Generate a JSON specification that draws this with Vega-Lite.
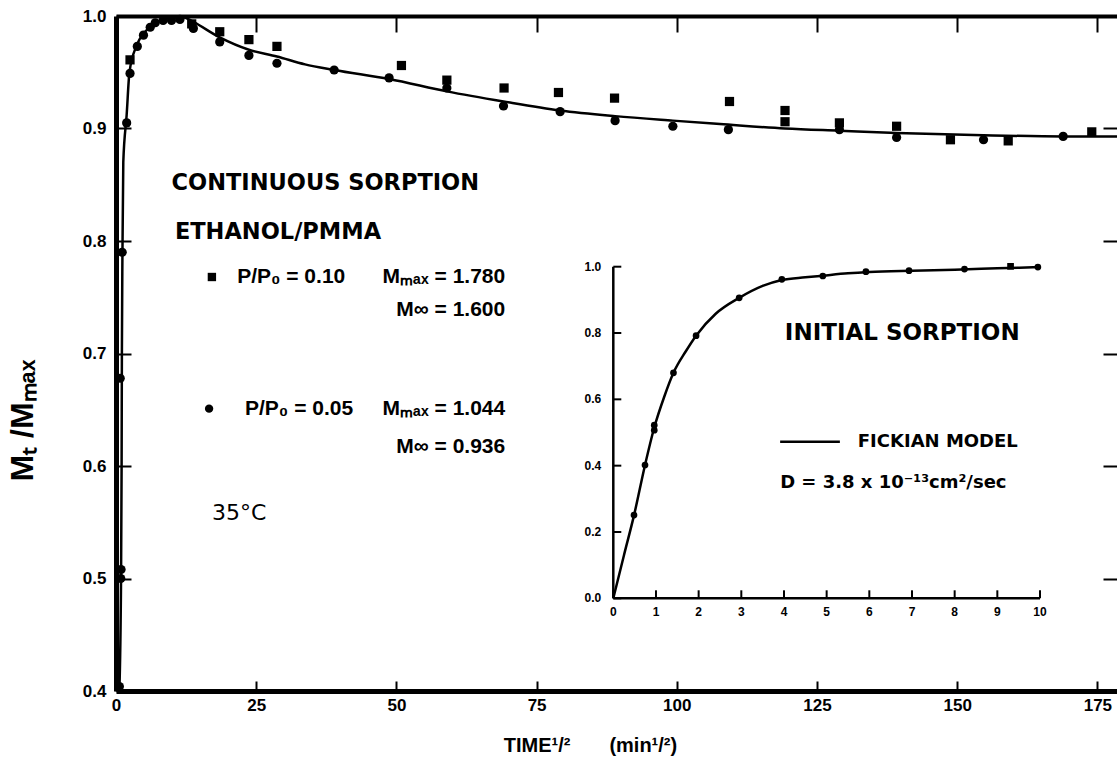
{
  "$schema": "https://vega.github.io/schema/vega-lite/v6.json",
  "width": 1001,
  "height": 675,
  "autosize": {"type": "none"},
  "padding": {"left": 116, "top": 16, "right": 0, "bottom": 75},
  "background": "white",
  "config": {
    "view": {"stroke": null},
    "axis": {"grid": false, "domainColor": "black", "tickColor": "black", "labelColor": "black", "titleColor": "black", "labelFont": "Liberation Sans", "titleFont": "Liberation Sans", "labelFontWeight": "bold"}
  },
  "datasets": {
    "main_curve": [
      {"t": 0.6, "m": 0.40}, {"t": 0.9, "m": 0.50}, {"t": 1.0, "m": 0.60}, {"t": 1.05, "m": 0.70}, {"t": 1.15, "m": 0.79},
      {"t": 1.3, "m": 0.87}, {"t": 1.9, "m": 0.912}, {"t": 2.4, "m": 0.950}, {"t": 3.7, "m": 0.974}, {"t": 5.2, "m": 0.986},
      {"t": 7.0, "m": 0.994}, {"t": 9.6, "m": 0.998}, {"t": 12.0, "m": 0.999}, {"t": 13.7, "m": 0.995}, {"t": 18.5, "m": 0.981},
      {"t": 23.7, "m": 0.970}, {"t": 28.7, "m": 0.964}, {"t": 33.7, "m": 0.957}, {"t": 38.9, "m": 0.952}, {"t": 48.7, "m": 0.944},
      {"t": 59.0, "m": 0.933}, {"t": 69.1, "m": 0.924}, {"t": 79.2, "m": 0.916}, {"t": 89.0, "m": 0.911}, {"t": 99.3, "m": 0.907},
      {"t": 107.7, "m": 0.904}, {"t": 119.3, "m": 0.900}, {"t": 129.0, "m": 0.898}, {"t": 139.2, "m": 0.896}, {"t": 154.7, "m": 0.894},
      {"t": 168.9, "m": 0.893}, {"t": 178.5, "m": 0.893}
    ],
    "main_points": [
      {"t": 0.6, "m": 0.404, "series": "0.05"}, {"t": 0.9, "m": 0.508, "series": "0.05"}, {"t": 0.85, "m": 0.50, "series": "0.05"},
      {"t": 0.75, "m": 0.678, "series": "0.05"}, {"t": 1.1, "m": 0.79, "series": "0.05"}, {"t": 1.9, "m": 0.905, "series": "0.05"},
      {"t": 2.5, "m": 0.949, "series": "0.05"}, {"t": 3.8, "m": 0.973, "series": "0.05"}, {"t": 4.9, "m": 0.983, "series": "0.05"},
      {"t": 6.1, "m": 0.99, "series": "0.05"}, {"t": 7.0, "m": 0.994, "series": "0.05"}, {"t": 8.4, "m": 0.996, "series": "0.05"},
      {"t": 9.9, "m": 0.996, "series": "0.05"}, {"t": 11.4, "m": 0.997, "series": "0.05"}, {"t": 13.8, "m": 0.989, "series": "0.05"},
      {"t": 18.5, "m": 0.977, "series": "0.05"}, {"t": 23.7, "m": 0.965, "series": "0.05"}, {"t": 28.7, "m": 0.958, "series": "0.05"},
      {"t": 38.9, "m": 0.952, "series": "0.05"}, {"t": 48.7, "m": 0.945, "series": "0.05"}, {"t": 59.0, "m": 0.936, "series": "0.05"},
      {"t": 69.1, "m": 0.92, "series": "0.05"}, {"t": 79.2, "m": 0.915, "series": "0.05"}, {"t": 89.0, "m": 0.907, "series": "0.05"},
      {"t": 99.3, "m": 0.902, "series": "0.05"}, {"t": 109.2, "m": 0.899, "series": "0.05"}, {"t": 129.0, "m": 0.899, "series": "0.05"},
      {"t": 139.2, "m": 0.892, "series": "0.05"}, {"t": 154.7, "m": 0.890, "series": "0.05"}, {"t": 168.9, "m": 0.893, "series": "0.05"},
      {"t": 2.5, "m": 0.961, "series": "0.10"}, {"t": 13.5, "m": 0.993, "series": "0.10"}, {"t": 18.5, "m": 0.986, "series": "0.10"},
      {"t": 23.7, "m": 0.979, "series": "0.10"}, {"t": 28.7, "m": 0.973, "series": "0.10"}, {"t": 50.9, "m": 0.956, "series": "0.10"},
      {"t": 59.0, "m": 0.943, "series": "0.10"}, {"t": 69.2, "m": 0.936, "series": "0.10"}, {"t": 78.9, "m": 0.932, "series": "0.10"},
      {"t": 88.9, "m": 0.927, "series": "0.10"}, {"t": 109.4, "m": 0.924, "series": "0.10"}, {"t": 119.3, "m": 0.916, "series": "0.10"},
      {"t": 119.3, "m": 0.906, "series": "0.10"}, {"t": 129.0, "m": 0.905, "series": "0.10"}, {"t": 139.2, "m": 0.902, "series": "0.10"},
      {"t": 148.8, "m": 0.890, "series": "0.10"}, {"t": 159.1, "m": 0.889, "series": "0.10"}, {"t": 174.0, "m": 0.897, "series": "0.10"}
    ],
    "legend_markers": [
      {"t": 17.1, "m": 0.768, "series": "0.10"},
      {"t": 16.6, "m": 0.651, "series": "0.05"}
    ],
    "notes_big": [
      {"t": 9.9, "m": 0.852, "label": "CONTINUOUS SORPTION"},
      {"t": 10.5, "m": 0.808, "label": "ETHANOL/PMMA"}
    ],
    "notes_leg_left": [
      {"t": 21.6, "m": 0.768, "label": "P/P₀ = 0.10"},
      {"t": 23.0, "m": 0.651, "label": "P/P₀ = 0.05"}
    ],
    "notes_leg_right": [
      {"t": 69.4, "m": 0.768, "label": "Mₘₐₓ = 1.780"},
      {"t": 69.4, "m": 0.739, "label": "M∞ = 1.600"},
      {"t": 69.4, "m": 0.651, "label": "Mₘₐₓ = 1.044"},
      {"t": 69.4, "m": 0.617, "label": "M∞ = 0.936"}
    ],
    "notes_temp": [
      {"t": 17.1, "m": 0.558, "label": "35°C"}
    ],
    "inset_curve": [
      {"x": 0, "y": 0}, {"x": 0.25, "y": 0.13}, {"x": 0.485, "y": 0.25}, {"x": 0.74, "y": 0.40}, {"x": 0.96, "y": 0.515},
      {"x": 1.2, "y": 0.61}, {"x": 1.41, "y": 0.68}, {"x": 1.7, "y": 0.745}, {"x": 1.94, "y": 0.792}, {"x": 2.4, "y": 0.858},
      {"x": 2.95, "y": 0.906}, {"x": 3.5, "y": 0.942}, {"x": 3.95, "y": 0.96}, {"x": 4.5, "y": 0.968}, {"x": 4.91, "y": 0.973},
      {"x": 5.5, "y": 0.98}, {"x": 6, "y": 0.984}, {"x": 7, "y": 0.988}, {"x": 8, "y": 0.991}, {"x": 9, "y": 0.995}, {"x": 10, "y": 0.999}
    ],
    "inset_points": [
      {"x": 0.485, "y": 0.251, "series": "0.05"}, {"x": 0.743, "y": 0.402, "series": "0.05"}, {"x": 0.96, "y": 0.507, "series": "0.05"},
      {"x": 0.96, "y": 0.522, "series": "0.05"}, {"x": 1.41, "y": 0.68, "series": "0.05"}, {"x": 1.94, "y": 0.792, "series": "0.05"},
      {"x": 2.95, "y": 0.906, "series": "0.05"}, {"x": 3.95, "y": 0.962, "series": "0.05"}, {"x": 4.91, "y": 0.972, "series": "0.05"},
      {"x": 5.92, "y": 0.985, "series": "0.05"}, {"x": 6.93, "y": 0.988, "series": "0.05"}, {"x": 8.23, "y": 0.993, "series": "0.05"},
      {"x": 9.95, "y": 0.999, "series": "0.05"}, {"x": 9.31, "y": 1.001, "series": "0.10"}
    ],
    "inset_frame": [
      {"x": 0, "x2": 10, "y": 0, "y2": 0},
      {"x": 0, "x2": 0, "y": 0, "y2": 1}
    ],
    "inset_xticks": [
      {"x": 0}, {"x": 1}, {"x": 2}, {"x": 3}, {"x": 4}, {"x": 5}, {"x": 6}, {"x": 7}, {"x": 8}, {"x": 9}, {"x": 10}
    ],
    "inset_yticks": [
      {"y": 0}, {"y": 0.2}, {"y": 0.4}, {"y": 0.6}, {"y": 0.8}, {"y": 1.0}
    ],
    "inset_rule": [
      {"x": 3.91, "x2": 5.31, "y": 0.472}
    ],
    "inset_big": [
      {"x": 4.02, "y": 0.80, "label": "INITIAL SORPTION"}
    ],
    "inset_model": [
      {"x": 5.73, "y": 0.472, "label": "FICKIAN MODEL"}
    ],
    "inset_d": [
      {"x": 3.91, "y": 0.347, "label": "D  = 3.8 x 10⁻¹³cm²/sec"}
    ]
  },
  "resolve": {"scale": {"x": "independent", "y": "independent"}},
  "layer": [
    {
      "resolve": {"axis": {"x": "independent", "y": "independent"}},
      "layer": [
        {
          "data": {"name": "main_curve"},
          "mark": {"type": "line", "color": "black", "strokeWidth": 2.5, "interpolate": "monotone"},
          "encoding": {
            "x": {"field": "t", "type": "quantitative", "scale": {"domain": [0, 178.5], "nice": false, "zero": false},
              "axis": {"orient": "bottom", "values": [0, 25, 50, 75, 100, 125, 150, 175], "tickSize": -10, "tickWidth": 2, "labelPadding": 16, "domainWidth": 5, "labelFontSize": 17, "labelFlush": false,
                "title": "TIME¹/²\u00a0\u00a0\u00a0\u00a0\u00a0\u00a0\u00a0(min¹/²)", "titleFontSize": 20, "titleFontWeight": "bold", "titleX": 474, "titleY": 54, "titleBaseline": "middle"}},
            "y": {"field": "m", "type": "quantitative", "scale": {"domain": [0.4, 1.0], "nice": false, "zero": false},
              "axis": {"orient": "left", "values": [0.4, 0.5, 0.6, 0.7, 0.8, 0.9, 1.0], "format": ".1f", "tickSize": -15, "tickWidth": 2, "labelPadding": 25, "domainWidth": 5, "labelFontSize": 17,
                "title": "Mₜ /Mₘₐₓ", "titleFontSize": 32, "titleFontWeight": "bold", "titleAngle": -90, "titleX": -94, "titleY": 404, "titleBaseline": "middle", "titleAlign": "center"}}
          }
        },
        {
          "data": {"name": "main_points"},
          "mark": {"type": "point", "filled": true, "color": "black", "opacity": 1, "size": 85},
          "encoding": {
            "x": {"field": "t", "type": "quantitative", "scale": {"domain": [0, 178.5], "nice": false, "zero": false},
              "axis": {"orient": "top", "values": [25, 50, 75, 100, 125, 150, 175], "tickSize": -16, "tickWidth": 2, "labels": false, "domainWidth": 4, "title": null}},
            "y": {"field": "m", "type": "quantitative", "scale": {"domain": [0.4, 1.0], "nice": false, "zero": false},
              "axis": {"orient": "right", "values": [0.5, 0.6, 0.7, 0.8, 0.9], "tickSize": -14, "tickWidth": 2, "labels": false, "domain": false, "title": null}},
            "shape": {"field": "series", "type": "nominal", "scale": {"domain": ["0.10", "0.05"], "range": ["square", "circle"]}, "legend": null}
          }
        },
        {
          "data": {"name": "legend_markers"},
          "mark": {"type": "point", "filled": true, "color": "black", "opacity": 1, "size": 70},
          "encoding": {
            "x": {"field": "t", "type": "quantitative", "scale": {"domain": [0, 178.5], "nice": false, "zero": false}, "axis": null},
            "y": {"field": "m", "type": "quantitative", "scale": {"domain": [0.4, 1.0], "nice": false, "zero": false}, "axis": null},
            "shape": {"field": "series", "type": "nominal", "scale": {"domain": ["0.10", "0.05"], "range": ["square", "circle"]}, "legend": null}
          }
        },
        {
          "data": {"name": "notes_big"},
          "mark": {"type": "text", "font": "DejaVu Sans", "fontWeight": "bold", "fontSize": 22.5, "align": "left", "baseline": "middle", "color": "black"},
          "encoding": {
            "x": {"field": "t", "type": "quantitative", "scale": {"domain": [0, 178.5], "nice": false, "zero": false}, "axis": null},
            "y": {"field": "m", "type": "quantitative", "scale": {"domain": [0.4, 1.0], "nice": false, "zero": false}, "axis": null},
            "text": {"field": "label"}
          }
        },
        {
          "data": {"name": "notes_leg_left"},
          "mark": {"type": "text", "font": "Liberation Sans", "fontWeight": "bold", "fontSize": 21, "align": "left", "baseline": "middle", "color": "black"},
          "encoding": {
            "x": {"field": "t", "type": "quantitative", "scale": {"domain": [0, 178.5], "nice": false, "zero": false}, "axis": null},
            "y": {"field": "m", "type": "quantitative", "scale": {"domain": [0.4, 1.0], "nice": false, "zero": false}, "axis": null},
            "text": {"field": "label"}
          }
        },
        {
          "data": {"name": "notes_leg_right"},
          "mark": {"type": "text", "font": "Liberation Sans", "fontWeight": "bold", "fontSize": 21, "align": "right", "baseline": "middle", "color": "black"},
          "encoding": {
            "x": {"field": "t", "type": "quantitative", "scale": {"domain": [0, 178.5], "nice": false, "zero": false}, "axis": null},
            "y": {"field": "m", "type": "quantitative", "scale": {"domain": [0.4, 1.0], "nice": false, "zero": false}, "axis": null},
            "text": {"field": "label"}
          }
        },
        {
          "data": {"name": "notes_temp"},
          "mark": {"type": "text", "font": "DejaVu Sans", "fontWeight": "normal", "fontSize": 22, "align": "left", "baseline": "middle", "color": "black"},
          "encoding": {
            "x": {"field": "t", "type": "quantitative", "scale": {"domain": [0, 178.5], "nice": false, "zero": false}, "axis": null},
            "y": {"field": "m", "type": "quantitative", "scale": {"domain": [0.4, 1.0], "nice": false, "zero": false}, "axis": null},
            "text": {"field": "label"}
          }
        }
      ]
    },
    {
      "layer": [
        {
          "data": {"name": "inset_frame"},
          "mark": {"type": "rule", "color": "black", "strokeWidth": 2.5},
          "encoding": {
            "x": {"field": "x", "type": "quantitative", "scale": {"domain": [0, 10], "range": [497.3, 924], "nice": false, "zero": false}, "axis": null},
            "x2": {"field": "x2"},
            "y": {"field": "y", "type": "quantitative", "scale": {"domain": [0, 1], "range": [582.3, 250.7], "nice": false, "zero": false}, "axis": null},
            "y2": {"field": "y2"}
          }
        },
        {
          "data": {"name": "inset_xticks"},
          "mark": {"type": "tick", "color": "black", "orient": "vertical", "size": 8, "thickness": 2, "yOffset": -4, "opacity": 1},
          "encoding": {
            "x": {"field": "x", "type": "quantitative", "scale": {"domain": [0, 10], "range": [497.3, 924], "nice": false, "zero": false}, "axis": null},
            "y": {"datum": 0, "type": "quantitative", "scale": {"domain": [0, 1], "range": [582.3, 250.7], "nice": false, "zero": false}, "axis": null}
          }
        },
        {
          "data": {"name": "inset_yticks"},
          "mark": {"type": "tick", "color": "black", "orient": "horizontal", "size": 8, "thickness": 2, "xOffset": 4, "opacity": 1},
          "encoding": {
            "x": {"datum": 0, "type": "quantitative", "scale": {"domain": [0, 10], "range": [497.3, 924], "nice": false, "zero": false}, "axis": null},
            "y": {"field": "y", "type": "quantitative", "scale": {"domain": [0, 1], "range": [582.3, 250.7], "nice": false, "zero": false}, "axis": null}
          }
        },
        {
          "data": {"name": "inset_xticks"},
          "mark": {"type": "text", "font": "Liberation Sans", "fontWeight": "bold", "fontSize": 12, "align": "center", "baseline": "top", "dy": 9, "color": "black"},
          "encoding": {
            "x": {"field": "x", "type": "quantitative", "scale": {"domain": [0, 10], "range": [497.3, 924], "nice": false, "zero": false}, "axis": null},
            "y": {"datum": 0, "type": "quantitative", "scale": {"domain": [0, 1], "range": [582.3, 250.7], "nice": false, "zero": false}, "axis": null},
            "text": {"field": "x", "type": "quantitative", "format": "d"}
          }
        },
        {
          "data": {"name": "inset_yticks"},
          "mark": {"type": "text", "font": "Liberation Sans", "fontWeight": "bold", "fontSize": 12, "align": "right", "baseline": "middle", "dx": -12, "color": "black"},
          "encoding": {
            "x": {"datum": 0, "type": "quantitative", "scale": {"domain": [0, 10], "range": [497.3, 924], "nice": false, "zero": false}, "axis": null},
            "y": {"field": "y", "type": "quantitative", "scale": {"domain": [0, 1], "range": [582.3, 250.7], "nice": false, "zero": false}, "axis": null},
            "text": {"field": "y", "type": "quantitative", "format": ".1f"}
          }
        },
        {
          "data": {"name": "inset_curve"},
          "mark": {"type": "line", "color": "black", "strokeWidth": 2.5, "interpolate": "monotone"},
          "encoding": {
            "x": {"field": "x", "type": "quantitative", "scale": {"domain": [0, 10], "range": [497.3, 924], "nice": false, "zero": false}, "axis": null},
            "y": {"field": "y", "type": "quantitative", "scale": {"domain": [0, 1], "range": [582.3, 250.7], "nice": false, "zero": false}, "axis": null}
          }
        },
        {
          "data": {"name": "inset_points"},
          "mark": {"type": "point", "filled": true, "color": "black", "opacity": 1, "size": 45},
          "encoding": {
            "x": {"field": "x", "type": "quantitative", "scale": {"domain": [0, 10], "range": [497.3, 924], "nice": false, "zero": false}, "axis": null},
            "y": {"field": "y", "type": "quantitative", "scale": {"domain": [0, 1], "range": [582.3, 250.7], "nice": false, "zero": false}, "axis": null},
            "shape": {"field": "series", "type": "nominal", "scale": {"domain": ["0.10", "0.05"], "range": ["square", "circle"]}, "legend": null}
          }
        },
        {
          "data": {"name": "inset_rule"},
          "mark": {"type": "rule", "color": "black", "strokeWidth": 2.5},
          "encoding": {
            "x": {"field": "x", "type": "quantitative", "scale": {"domain": [0, 10], "range": [497.3, 924], "nice": false, "zero": false}, "axis": null},
            "x2": {"field": "x2"},
            "y": {"field": "y", "type": "quantitative", "scale": {"domain": [0, 1], "range": [582.3, 250.7], "nice": false, "zero": false}, "axis": null}
          }
        },
        {
          "data": {"name": "inset_big"},
          "mark": {"type": "text", "font": "DejaVu Sans", "fontWeight": "bold", "fontSize": 23, "align": "left", "baseline": "middle", "color": "black"},
          "encoding": {
            "x": {"field": "x", "type": "quantitative", "scale": {"domain": [0, 10], "range": [497.3, 924], "nice": false, "zero": false}, "axis": null},
            "y": {"field": "y", "type": "quantitative", "scale": {"domain": [0, 1], "range": [582.3, 250.7], "nice": false, "zero": false}, "axis": null},
            "text": {"field": "label"}
          }
        },
        {
          "data": {"name": "inset_model"},
          "mark": {"type": "text", "font": "DejaVu Sans", "fontWeight": "bold", "fontSize": 18, "align": "left", "baseline": "middle", "color": "black"},
          "encoding": {
            "x": {"field": "x", "type": "quantitative", "scale": {"domain": [0, 10], "range": [497.3, 924], "nice": false, "zero": false}, "axis": null},
            "y": {"field": "y", "type": "quantitative", "scale": {"domain": [0, 1], "range": [582.3, 250.7], "nice": false, "zero": false}, "axis": null},
            "text": {"field": "label"}
          }
        },
        {
          "data": {"name": "inset_d"},
          "mark": {"type": "text", "font": "DejaVu Sans", "fontWeight": "bold", "fontSize": 18, "align": "left", "baseline": "middle", "color": "black"},
          "encoding": {
            "x": {"field": "x", "type": "quantitative", "scale": {"domain": [0, 10], "range": [497.3, 924], "nice": false, "zero": false}, "axis": null},
            "y": {"field": "y", "type": "quantitative", "scale": {"domain": [0, 1], "range": [582.3, 250.7], "nice": false, "zero": false}, "axis": null},
            "text": {"field": "label"}
          }
        }
      ]
    }
  ]
}
